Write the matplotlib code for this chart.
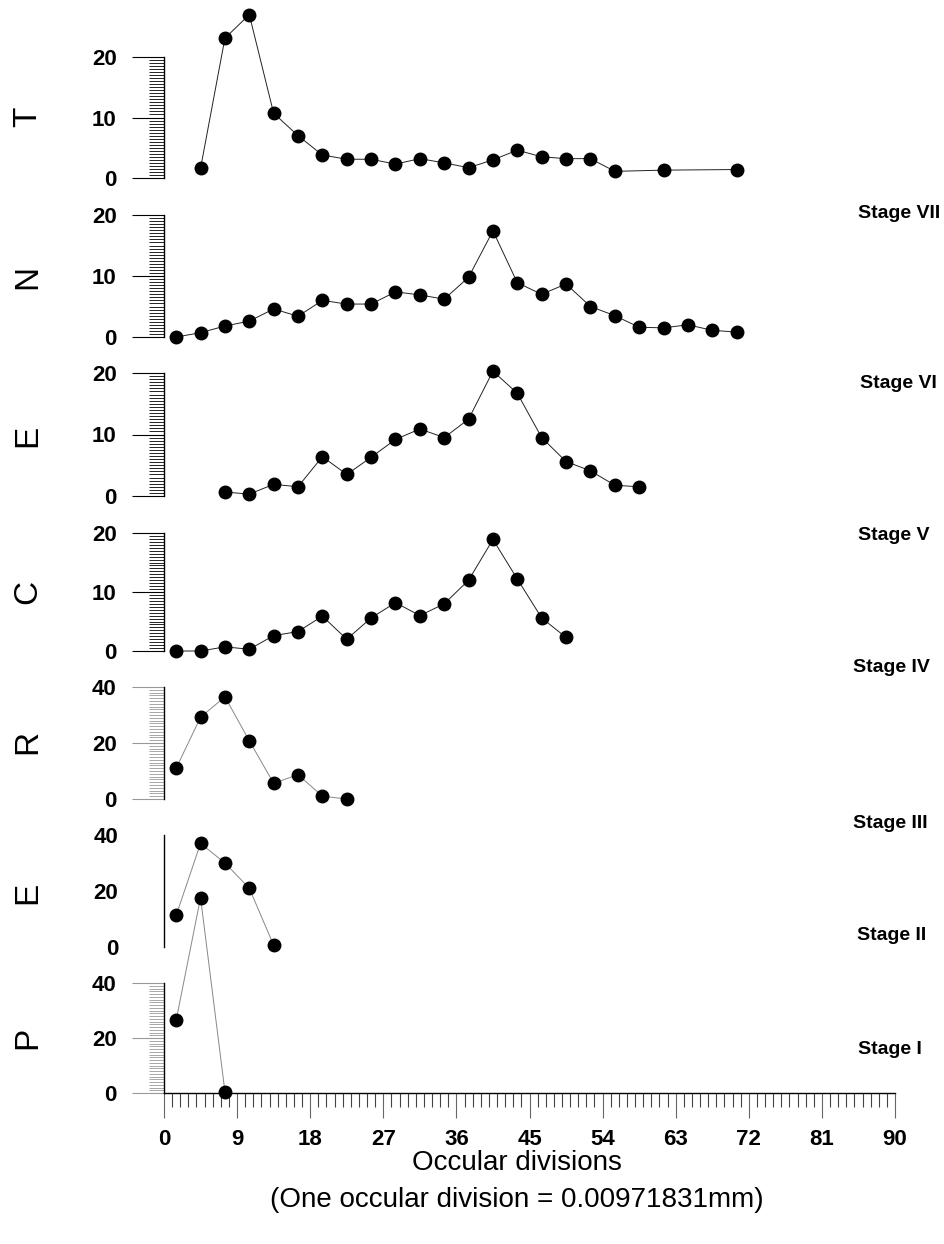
import matplotlib.pyplot as plt
from matplotlib.ticker import MultipleLocator

plt.rcParams['font.family'] = ['Liberation Sans', 'DejaVu Sans']

# counts per occular division class, one series per stage (top to bottom)
t_x = [4.5, 7.5, 10.5, 13.5, 16.5, 19.5, 22.5, 25.5, 28.5, 31.5, 34.5, 37.5,
       40.5, 43.5, 46.5, 49.5, 52.5, 55.5, 61.5, 70.5]
t_y = [1.6, 23.1, 27.0, 10.7, 7.0, 3.8, 3.1, 3.1, 2.3, 3.2, 2.5, 1.7,
       3.0, 4.6, 3.5, 3.2, 3.2, 1.1, 1.3, 1.4]

n_x = [1.5, 4.5, 7.5, 10.5, 13.5, 16.5, 19.5, 22.5, 25.5, 28.5, 31.5, 34.5,
       37.5, 40.5, 43.5, 46.5, 49.5, 52.5, 55.5, 58.5, 61.5, 64.5, 67.5, 70.5]
n_y = [0.0, 0.7, 1.8, 2.6, 4.6, 3.4, 6.0, 5.4, 5.4, 7.4, 6.9, 6.2,
       9.8, 17.4, 8.9, 7.0, 8.7, 5.0, 3.5, 1.6, 1.5, 2.0, 1.1, 0.8]

e6_x = [7.5, 10.5, 13.5, 16.5, 19.5, 22.5, 25.5, 28.5, 31.5, 34.5, 37.5,
        40.5, 43.5, 46.5, 49.5, 52.5, 55.5, 58.5]
e6_y = [0.65, 0.3, 1.9, 1.5, 6.4, 3.5, 6.3, 9.2, 10.9, 9.5, 12.5,
        20.3, 16.7, 9.5, 5.6, 4.1, 1.75, 1.5]

c_x = [1.5, 4.5, 7.5, 10.5, 13.5, 16.5, 19.5, 22.5, 25.5, 28.5, 31.5, 34.5,
       37.5, 40.5, 43.5, 46.5, 49.5]
c_y = [0.0, 0.0, 0.7, 0.3, 2.6, 3.3, 5.9, 2.0, 5.6, 8.2, 6.0, 8.0,
       12.0, 18.9, 12.2, 5.6, 2.3]

r_x = [1.5, 4.5, 7.5, 10.5, 13.5, 16.5, 19.5, 22.5]
r_y = [11.0, 29.2, 36.5, 20.8, 5.6, 8.7, 1.0, 0.0]

e3_x = [1.5, 4.5, 7.5, 10.5, 13.5]
e3_y = [11.3, 37.0, 30.0, 21.0, 0.6]

p_x = [1.5, 4.5, 7.5]
p_y = [26.5, 71.0, 0.5]

letters = ['T', 'N', 'E', 'C', 'R', 'E', 'P']
stages = ['Stage VII', 'Stage VI', 'Stage V', 'Stage IV', 'Stage III', 'Stage II', 'Stage I']
xticks = [0, 9, 18, 27, 36, 45, 54, 63, 72, 81, 90]

W, H = 944, 1244
fig = plt.figure(figsize=(W / 100, H / 100), dpi=100)

# panel layout in pixels: (pixel of y=0, pixel of top value, top value)
panels = [
    (t_x, t_y, 178, 57, 20),
    (n_x, n_y, 337, 215, 20),
    (e6_x, e6_y, 496, 373, 20),
    (c_x, c_y, 651, 533, 20),
    (r_x, r_y, 799, 687, 40),
    (e3_x, e3_y, 947, 835, 40),
    (p_x, p_y, 1093, 983, 40),
]
x_left, x_right = 164, 895
letter_y = [117, 277, 436, 592, 742, 893, 1038]
stage_pos = [(858, 213), (860, 383), (858, 536), (853, 668), (853, 823), (857, 935), (858, 1050)]

for i, (xs, ys, y0, ytop, top) in enumerate(panels):
    ax = fig.add_axes([x_left / W, 1 - y0 / H, (x_right - x_left) / W, (y0 - ytop) / H])
    ax.patch.set_alpha(0)
    ax.set_xlim(0, 90)
    ax.set_ylim(0, top)
    for s in ['top', 'right']:
        ax.spines[s].set_visible(False)
    ax.spines['left'].set_linewidth(1.0)

    faint = i >= 4
    lc = '#888888' if faint else '#222222'
    ax.plot(xs, ys, color=lc, lw=0.7, clip_on=False, zorder=2)
    ax.plot(xs, ys, 'o', color='black', ms=9, clip_on=False, zorder=3)

    ax.yaxis.set_major_locator(MultipleLocator(top / 2))
    ax.yaxis.set_minor_locator(MultipleLocator(0.5 if top == 20 else 1))
    tick_col = '#999999' if faint else 'black'
    if i == 5:
        ax.tick_params(axis='y', which='both', length=0, pad=33)
    else:
        ax.tick_params(axis='y', which='major', length=23, width=0.8, color=tick_col, pad=11)
        ax.tick_params(axis='y', which='minor', length=11, width=0.6, color=tick_col)
    ax.tick_params(axis='y', labelsize=16)
    for lab in ax.get_yticklabels():
        lab.set_fontweight('bold')

    if i < 6:
        ax.spines['bottom'].set_visible(False)
        ax.set_xticks([])
    else:
        ax.set_xticks(xticks)
        ax.set_xticklabels([str(v) for v in xticks], fontsize=16, fontweight='bold')
        ax.xaxis.set_minor_locator(MultipleLocator(1))
        ax.tick_params(axis='x', which='major', length=18, width=0.8, color='#666666', pad=8)
        ax.tick_params(axis='x', which='minor', length=10, width=0.8, color='#444444')
        ax.spines['bottom'].set_linewidth(1.0)

    fig.text(28 / W, 1 - letter_y[i] / H, letters[i], rotation=90, fontsize=24,
             ha='center', va='center')
    sx, sy = stage_pos[i]
    fig.text(sx / W, 1 - sy / H, stages[i], fontsize=14, fontweight='bold',
             ha='left', va='center')

fig.text(517 / W, 1 - 1163 / H, 'Occular divisions', fontsize=20, ha='center', va='center')
fig.text(517 / W, 1 - 1200 / H, '(One occular division = 0.00971831mm)', fontsize=20,
         ha='center', va='center')

fig.savefig('out.png', dpi=100)
